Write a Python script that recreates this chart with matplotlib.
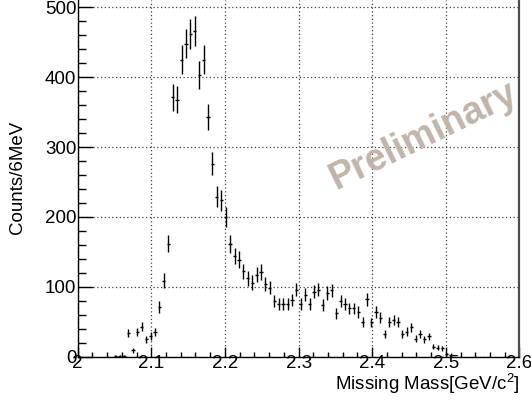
import numpy as np
import matplotlib
matplotlib.use("Agg")
import matplotlib.pyplot as plt
from matplotlib.ticker import MultipleLocator

plt.rcParams["font.family"] = ["Liberation Sans", "DejaVu Sans"]
plt.rcParams["mathtext.fontset"] = "custom"
plt.rcParams["mathtext.rm"] = "Liberation Sans"
plt.rcParams["mathtext.default"] = "regular"

# histogram: 6 MeV bins from 2.0 GeV, first filled bin index below
first_bin = 8
bin_width = 0.006
counts = [1, 1, 1, 34, 9, 35, 43, 25, 30, 35,
          71, 109, 162, 371, 368, 425, 448, 462, 466, 403,
          425, 343, 276, 229, 224, 200, 161, 144, 139, 122,
          112, 106, 117, 121, 104, 99, 80, 76, 76, 75,
          81, 96, 75, 89, 76, 93, 96, 74, 91, 95,
          62, 80, 76, 69, 69, 64, 50, 82, 49, 64,
          56, 32, 50, 52, 50, 32, 36, 42, 26, 32,
          25, 29, 14, 13, 12, 4, 3]
errors = [1.0, 1.0, 1.0, 5.8, 3.0, 5.9, 6.6, 5.0, 5.5, 5.9,
          8.4, 10.4, 12.7, 19.3, 19.2, 20.6, 21.2, 21.5, 21.6, 20.1,
          20.6, 18.5, 16.6, 15.1, 15.0, 14.1, 12.7, 12.0, 11.8, 11.0,
          10.6, 10.3, 10.8, 11.0, 10.2, 9.9, 8.9, 8.7, 8.7, 8.7,
          9.0, 9.8, 8.7, 9.4, 8.7, 9.6, 9.8, 8.6, 9.5, 9.7,
          7.9, 8.9, 8.7, 8.3, 8.3, 8.0, 7.1, 9.1, 7.0, 8.0,
          7.5, 5.7, 7.1, 7.2, 7.1, 5.7, 6.0, 6.5, 5.1, 5.7,
          5.0, 5.4, 3.7, 3.6, 3.5, 2.0, 1.7]

centers = 2.0 + bin_width * (first_bin + np.arange(len(counts)) + 0.5)

fig = plt.figure(figsize=(5.31, 4.07), dpi=100)
ax = fig.add_axes([0.1463, 0.1236, 0.832, 0.8764])

ax.errorbar(centers, counts, yerr=errors, xerr=0.0022, fmt="none",
            ecolor="black", elinewidth=1.0, capsize=0)

ax.set_xlim(2.0, 2.6)
ax.set_ylim(0, 510.5)

ax.xaxis.set_minor_locator(MultipleLocator(0.02))
ax.yaxis.set_minor_locator(MultipleLocator(20))
ax.set_xticks([2.0, 2.1, 2.2, 2.3, 2.4, 2.5, 2.6])
ax.set_xticklabels(["2", "2.1", "2.2", "2.3", "2.4", "2.5", "2.6"])
ax.set_yticks([0, 100, 200, 300, 400, 500])

ax.tick_params(axis="both", which="both", direction="in",
               top=False, right=False, labelsize=13.5, color="black")
ax.tick_params(axis="y", which="major", length=11, width=1, pad=1)
ax.tick_params(axis="y", which="minor", length=5.5, width=1)
ax.tick_params(axis="x", which="major", length=7.5, width=1, pad=-1.5)
ax.tick_params(axis="x", which="minor", length=3.8, width=1)

ax.grid(True, which="major", linestyle=(0, (1, 2)), linewidth=0.9,
        color="0.25")

ax.spines["top"].set_visible(False)
ax.spines["left"].set_linewidth(1.0)
ax.spines["bottom"].set_linewidth(1.0)
ax.spines["right"].set_linewidth(1.6)
ax.spines["right"].set_color("0.3")

fig.text(18 / 531, 1 - 177 / 407, "Counts/6MeV", rotation=90,
         ha="center", va="center", fontsize=13.5)
fig.text(520 / 531, 17 / 407, "Missing Mass[GeV/c$^{2}$]",
         ha="right", va="baseline", fontsize=13.5)

fig.text(423 / 531, 1 - 136 / 407, "Preliminary", rotation=26,
         rotation_mode="anchor", ha="center", va="center",
         fontsize=27, fontweight="bold", color="#c1b5ab")

fig.savefig("out.png", dpi=100)
